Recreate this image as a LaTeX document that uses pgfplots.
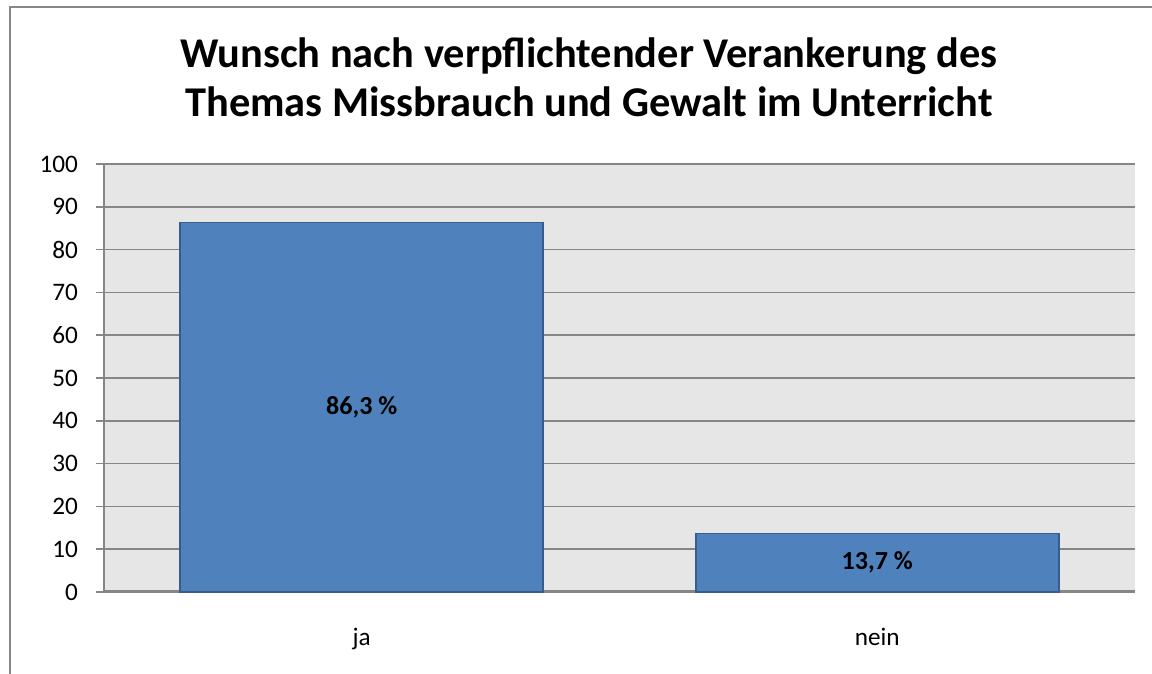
\documentclass[border=0pt]{standalone}
\usepackage{fontspec}
\setmainfont{Carlito}
\usepackage{pgfplots}
\pgfplotsset{compat=1.18}

\definecolor{barfill}{HTML}{4F81BD}
\definecolor{barline}{HTML}{385D8A}
\definecolor{plotbg}{HTML}{E6E6E6}
\definecolor{gridgray}{HTML}{868686}

\begin{document}
\begin{tikzpicture}[x=1pt,y=1pt]
\useasboundingbox (0,0) rectangle (576,337);
% outer chart frame (only left and top visible)
\draw[gridgray, line width=1.1pt] (5,-5) -- (5,333.4) -- (590,333.4);
% title
\node[anchor=base, font=\fontsize{21.2}{25}\selectfont\bfseries] at (294.5,303)
  {Wunsch nach verpflichtender Verankerung des};
\node[anchor=base, font=\fontsize{21.2}{25}\selectfont\bfseries] at (294.5,278.5)
  {Themas Missbrauch und Gewalt im Unterricht};

\begin{axis}[
    at={(52pt,41pt)}, anchor=south west,
    scale only axis,
    width=515.5pt, height=214pt,
    xmin=-0.5, xmax=1.5,
    ymin=0, ymax=100,
    ytick={0,10,...,100},
    xtick={0,1},
    xticklabels={ja,nein},
    xtick style={draw=none},
    extra x ticks={-0.5,0.5,1.5},
    extra x tick labels={},
    extra x tick style={tick style={draw=gridgray, line width=0.75pt}, major tick length=4pt},
    axis x line*=bottom,
    axis y line*=left,
    axis line style={-},
    x axis line style={draw=gridgray, line width=1.5pt},
    y axis line style={draw=gridgray, line width=0.8pt},
    ytick style={draw=gridgray, line width=0.75pt},
    tick align=outside,
    major tick length=4pt,
    ymajorgrids,
    grid style={draw=gridgray, line width=0.8pt},
    axis background/.style={fill=plotbg},
    tick label style={font=\fontsize{12.6}{15}\selectfont},
    yticklabel style={xshift=-5.5pt},
    xticklabel style={yshift=-10.5pt},
    /pgf/number format/assume math mode=true,
    clip=false,
]
\addplot[ybar, bar width=0.704, fill=barfill, draw=barline, line width=0.8pt]
  coordinates {(0,86.3) (1,13.7)};
% value labels at the middle of each bar
\addplot[draw=none, mark=none,
    nodes near coords, point meta=explicit symbolic,
    every node near coord/.append style={anchor=center, font=\fontsize{13}{15}\selectfont\bfseries}]
  coordinates {(0,43.15) [86,3 \%] (1,6.85) [13,7 \%]};
\end{axis}
\end{tikzpicture}
\end{document}
